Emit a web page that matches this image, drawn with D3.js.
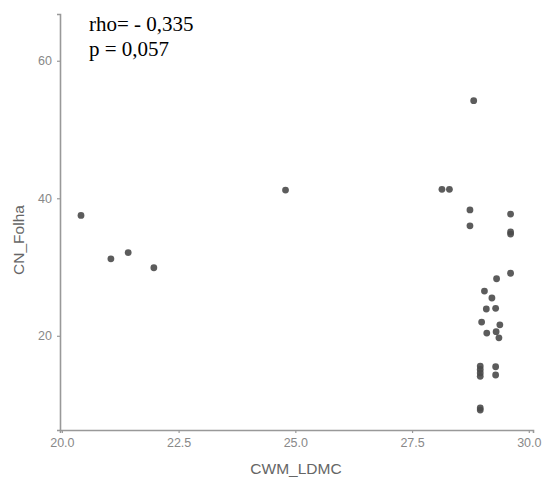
<!DOCTYPE html>
<html><head><meta charset="utf-8">
<script src="https://cdn.jsdelivr.net/npm/d3@7"></script>
<style>body{margin:0;background:#fff}</style>
</head><body>
<script>
const xValues = [20.41,21.05,21.42,21.97,24.79,
  28.82,28.14,28.30,28.74,29.61,
  28.74,29.61,29.61,29.61,29.31,29.05,29.21,29.09,29.29,28.99,29.38,29.10,29.30,29.36,
  28.96,28.96,28.96,28.96,29.29,29.29,28.96,28.96];
const yValues = [37.5,31.2,32.1,29.9,41.2,
  54.2,41.3,41.3,38.3,37.7,
  36.0,34.8,35.1,29.1,28.3,26.5,25.5,23.9,24.0,22.0,21.6,20.4,20.6,19.7,
  15.6,15.1,14.6,14.1,15.5,14.3,9.2,9.5];
const xTicks = [20.0,22.5,25.0,27.5,30.0];
const yTicks = [20,40,60];
const xTitle = "CWM_LDMC", yTitle = "CN_Folha";
const annot = ["rho= - 0,335","p = 0,057"];

const svg = d3.select("body").append("svg").attr("width",542).attr("height",480);
const x = d3.scaleLinear().domain([19.96,30.09]).range([60,533]);
const y = d3.scaleLinear().domain([6.3,66.8]).range([430,14]);

const gx = svg.append("g").attr("transform","translate(0,430)")
  .call(d3.axisBottom(x).tickValues(xTicks).tickFormat(d3.format(".1f")).tickSize(3).tickPadding(5));
const gy = svg.append("g").attr("transform","translate(60,0)")
  .call(d3.axisLeft(y).tickValues(yTicks).tickSize(3).tickPadding(5));
[gx,gy].forEach(g=>{
  g.select(".domain").attr("stroke","#999").attr("stroke-width",1.6);
  g.selectAll(".tick line").attr("stroke","#999").attr("stroke-width",1.2);
  g.selectAll(".tick text").attr("fill","#888").attr("font-family","Liberation Sans, Arial, sans-serif").attr("font-size",12.5);
});

svg.append("g").selectAll("circle").data(xValues).join("circle")
  .attr("cx",(d)=>x(d)).attr("cy",(d,i)=>y(yValues[i])).attr("r",3.4)
  .attr("fill","#4a4a4a").attr("fill-opacity",0.9);

svg.append("text").attr("x",296).attr("y",474).attr("text-anchor","middle")
  .attr("font-family","Liberation Sans, Arial, sans-serif").attr("font-size",15.5).attr("fill","#666").text(xTitle);
svg.append("text").attr("transform","translate(24,240) rotate(-90)").attr("text-anchor","middle")
  .attr("font-family","Liberation Sans, Arial, sans-serif").attr("font-size",15.5).attr("fill","#666").text(yTitle);

svg.append("g").selectAll("text").data(annot).join("text")
  .attr("x",89).attr("y",(d,i)=>31+i*25)
  .attr("font-family","Liberation Serif, Times New Roman, serif").attr("font-size",21).attr("fill","#000").text(d=>d);
</script>
</body></html>
